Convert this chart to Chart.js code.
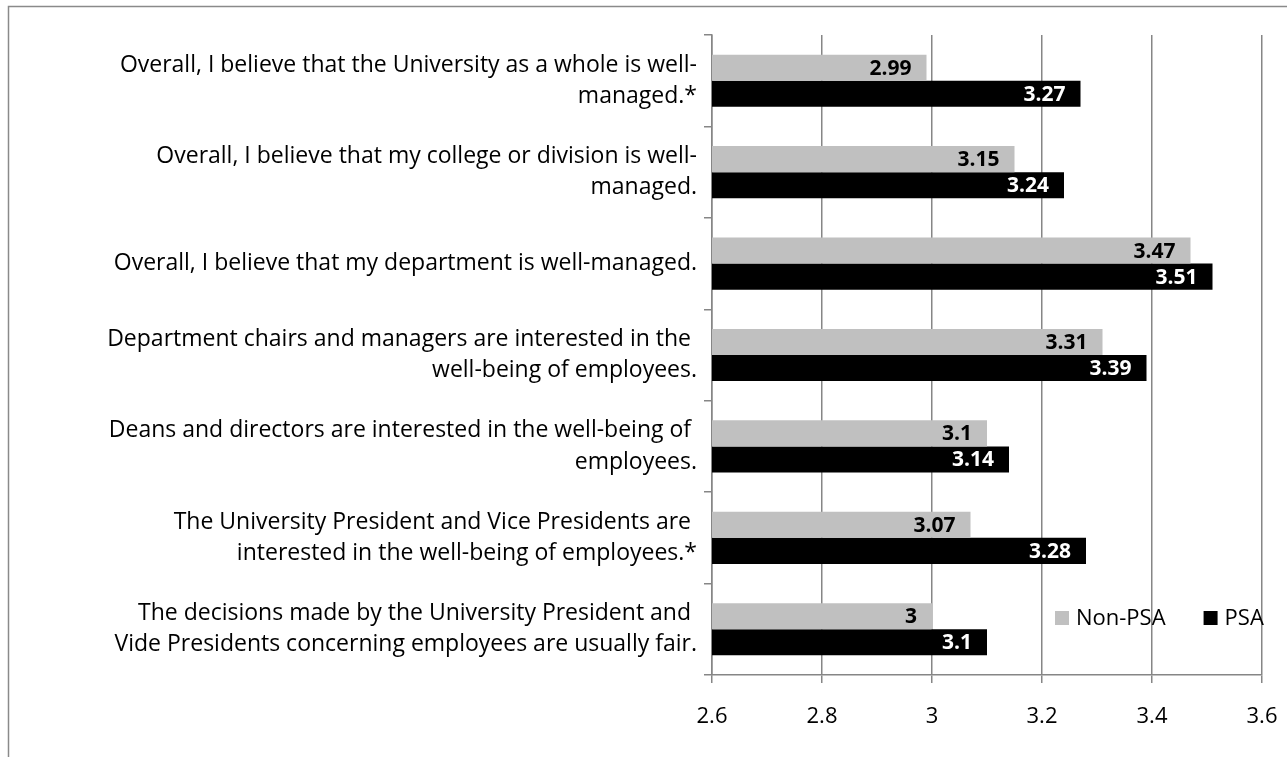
<!DOCTYPE html>
<html>
<head>
<meta charset="utf-8">
<title>Management ratings</title>
<script src="https://cdn.jsdelivr.net/npm/chart.js@4.4.1/dist/chart.umd.min.js"></script>
<style>
  html, body { margin: 0; padding: 0; background: #fff; }
  canvas { display: block; }
</style>
</head>
<body>
<canvas id="chart" width="1287" height="757"></canvas>
<script>
// survey statements (wrapped the way they show on the axis)
const statements = [
    ["Overall, I believe that the University as a whole is well-", "managed.*"],
    ["Overall, I believe that my college or division is well-", "managed."],
    ["Overall, I believe that my department is well-managed."],
    ["Department chairs and managers are interested in the ", "well-being of employees."],
    ["Deans and directors are interested in the well-being of ", "employees."],
    ["The University President and Vice Presidents are ", "interested in the well-being of employees.*"],
    ["The decisions made by the University President and ", "Vide Presidents concerning employees are usually fair."]
];
const nonPsa = [2.99, 3.15, 3.47, 3.31, 3.1, 3.07, 3];
const psa = [3.27, 3.24, 3.51, 3.39, 3.14, 3.28, 3.1];
const seriesNames = ["Non-PSA", "PSA"];
const seriesColors = ["#c0c0c0", "#000000"];
const labelColors = ["#000000", "#ffffff"];

const FONT = "'Open Sans', sans-serif";
const gridColor = "#868686";

// outer frame of the chart box
const framePlugin = {
    id: "frame",
    beforeDraw(chart) {
        const ctx = chart.ctx;
        ctx.save();
        ctx.strokeStyle = "#8a8a8a";
        ctx.lineWidth = 1.5;
        ctx.beginPath();
        ctx.moveTo(8.5, chart.height);
        ctx.lineTo(8.5, 6.5);
        ctx.lineTo(chart.width, 6.5);
        ctx.stroke();
        ctx.restore();
    }
};

// value labels inside the end of each bar
const valueLabels = {
    id: "valueLabels",
    afterDatasetsDraw(chart) {
        const ctx = chart.ctx;
        ctx.save();
        ctx.font = "bold 21px " + FONT;
        ctx.textAlign = "right";
        ctx.textBaseline = "middle";
        chart.data.datasets.forEach((ds, i) => {
            const meta = chart.getDatasetMeta(i);
            meta.data.forEach((bar, j) => {
                ctx.fillStyle = labelColors[i];
                ctx.fillText(String(ds.data[j]), bar.x - 15, bar.y + 1);
            });
        });
        ctx.restore();
    }
};

// legend sitting inside the plot, bottom right
const insideLegend = {
    id: "insideLegend",
    afterDraw(chart) {
        const ctx = chart.ctx;
        const area = chart.chartArea;
        ctx.save();
        ctx.font = "22px " + FONT;
        ctx.textBaseline = "middle";
        const y = area.bottom - 57;
        let x = area.right - 207;
        chart.data.datasets.forEach((ds, i) => {
            ctx.fillStyle = ds.backgroundColor;
            ctx.fillRect(x, y - 7, 14, 14);
            ctx.fillStyle = "#000";
            ctx.fillText(ds.label, x + 21, y + 1);
            x += 21 + ctx.measureText(ds.label).width + 38;
        });
        ctx.restore();
    }
};

new Chart(document.getElementById("chart"), {
    type: "bar",
    data: {
        labels: statements,
        datasets: [
            { label: seriesNames[0], data: nonPsa, backgroundColor: seriesColors[0] },
            { label: seriesNames[1], data: psa, backgroundColor: seriesColors[1] }
        ]
    },
    options: {
        indexAxis: "y",
        responsive: false,
        animation: false,
        layout: { padding: { top: 35, right: 25, left: 0, bottom: 0 } },
        datasets: { bar: { categoryPercentage: 0.57, barPercentage: 1.0 } },
        plugins: {
            legend: { display: false },
            tooltip: { enabled: false }
        },
        scales: {
            x: {
                min: 2.6,
                max: 3.6,
                ticks: {
                    stepSize: 0.2,
                    color: "#000",
                    font: { family: FONT, size: 22 },
                    padding: 21,
                    callback: (v) => String(Math.round(v * 10) / 10)
                },
                grid: { color: gridColor, lineWidth: 1.5, tickLength: 8 },
                border: { color: gridColor, width: 1.5 },
                afterFit(scale) {
                    scale.height = 82;
                    scale.paddingLeft = 0;
                    scale.paddingRight = 0;
                }
            },
            y: {
                ticks: { color: "#000", font: { family: FONT, size: 23, lineHeight: 1.35 }, padding: 7 },
                grid: { drawOnChartArea: false, color: gridColor, lineWidth: 1.5, tickLength: 8 },
                border: { color: gridColor, width: 1.5 },
                afterFit(scale) {
                    scale.width = 712;
                    scale.paddingTop = 0;
                    scale.paddingBottom = 0;
                }
            }
        }
    },
    plugins: [framePlugin, valueLabels, insideLegend]
});
</script>
</body>
</html>
